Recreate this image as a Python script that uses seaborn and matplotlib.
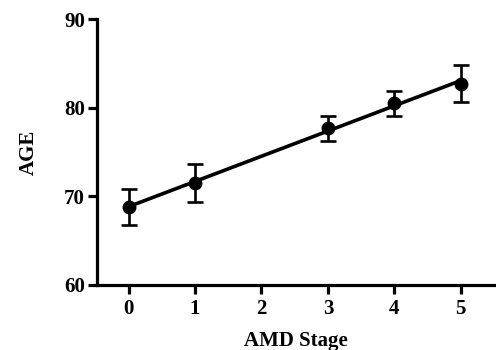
import numpy as np
import pandas as pd
import matplotlib
matplotlib.use("Agg")
import matplotlib.pyplot as plt
import seaborn as sns

# ── Data ───────────────────────────────────────────────────────────────────
stage = [0, 1, 3, 4, 5]
age_mean = [68.8, 71.5, 77.7, 80.5, 82.7]
age_err = [2.0, 2.1, 1.4, 1.4, 2.1]
x_ticks = [0, 1, 2, 3, 4, 5]
y_ticks = [60, 70, 80, 90]

df = pd.DataFrame({"stage": stage, "age": age_mean, "err": age_err})

sns.set_theme(style="ticks")
plt.rcParams["font.family"] = ["Liberation Serif", "DejaVu Serif"]
plt.rcParams["font.weight"] = "bold"
plt.rcParams["text.color"] = "black"
plt.rcParams["axes.labelcolor"] = "black"

fig = plt.figure(figsize=(4.96, 3.5), dpi=100)
ax = fig.add_axes([0.195, 0.186, 0.805, 0.759])

# regression line through the means
sns.regplot(data=df, x="stage", y="age", ax=ax, ci=None, scatter=False,
            color="black", line_kws={"linewidth": 2.6})
# mean points with error bars
ax.errorbar(df["stage"], df["age"], yerr=df["err"], fmt="o", color="black",
            markersize=9, elinewidth=1.9, capsize=6, capthick=1.9, zorder=3)

ax.set_xlim(-0.48, 5.53)
ax.set_ylim(60, 90)
ax.set_xticks(x_ticks)
ax.set_yticks(y_ticks)
ax.set_xlabel("AMD Stage", fontsize=15, fontweight="bold", labelpad=8)
ax.set_ylabel("AGE", fontsize=15, fontweight="bold", labelpad=18)

for side in ["top", "right"]:
    ax.spines[side].set_visible(False)
for side in ["left", "bottom"]:
    ax.spines[side].set_linewidth(2.3)
    ax.spines[side].set_color("black")
ax.tick_params(axis="both", length=6.5, width=2.3, color="black",
               labelsize=15, labelcolor="black", pad=2)
ax.tick_params(axis="x", pad=4)
for lab in ax.get_xticklabels() + ax.get_yticklabels():
    lab.set_fontweight("bold")

plt.savefig("out.png", dpi=100)
plt.close()
